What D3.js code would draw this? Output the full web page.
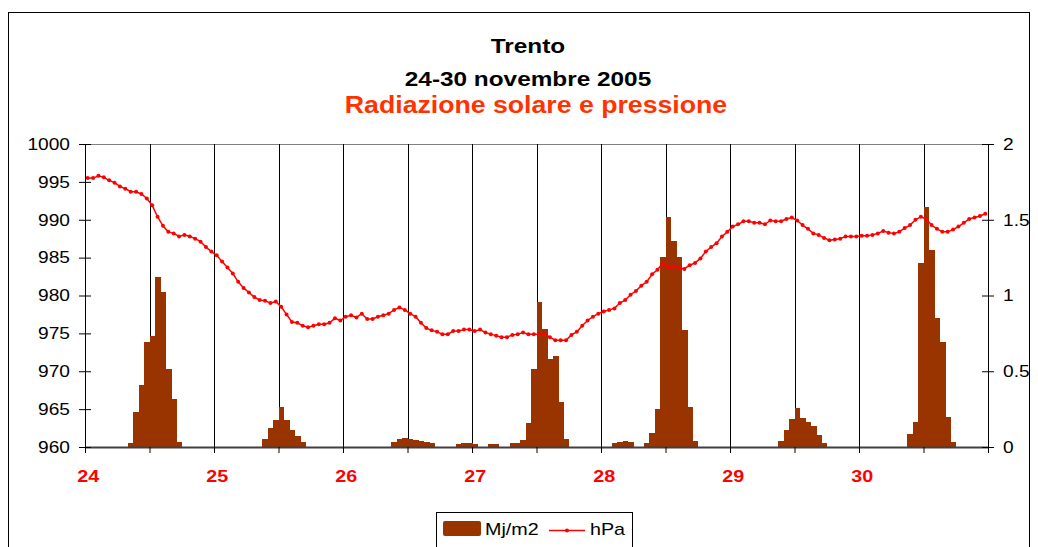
<!DOCTYPE html>
<html>
<head>
<meta charset="utf-8">
<script src="https://cdn.jsdelivr.net/npm/d3@7/dist/d3.min.js"></script>
<style>
    body { margin: 0; background: #fff; }
    svg { display: block; font-family: Arial, "Liberation Sans", sans-serif; }
</style>
</head>
<body>
<svg id="chart" width="1038" height="547"></svg>
<script>
// giorni (etichette asse x), una per ogni 24 ore
const days = ["24", "25", "26", "27", "28", "29", "30"];
const hPaTicks = [960, 965, 970, 975, 980, 985, 990, 995, 1000];
const mjTicks = [0, 0.5, 1, 1.5, 2];

// radiazione solare oraria (Mj/m2), una riga per giorno
const radiazione = [
    0,0,0,0,0,0,0,0,0.025,0.23,0.41,0.695,0.73,1.125,1.02,0.515,0.32,0.035,0,0,0,0,0,0,
    0,0,0,0,0,0,0,0,0,0.055,0.123,0.176,0.266,0.176,0.115,0.075,0.033,0,0,0,0,0,0,0,
    0,0,0,0,0,0,0,0,0,0.03,0.05,0.06,0.05,0.045,0.04,0.035,0.025,0,0,0,0,0.022,0.024,0.024,
    0.022,0,0,0.022,0.022,0,0,0.024,0.024,0.044,0.156,0.515,0.96,0.777,0.58,0.603,0.30,0.053,0,0,0,0,0,0,
    0,0,0.024,0.035,0.042,0.035,0,0,0.024,0.095,0.25,1.252,1.516,1.36,1.252,0.772,0.266,0.04,0,0,0,0,0,0,
    0,0,0,0,0,0,0,0,0,0.042,0.112,0.185,0.255,0.189,0.167,0.141,0.079,0.024,0,0,0,0,0,0,
    0,0,0,0,0,0,0,0,0,0.084,0.167,1.217,1.586,1.30,0.849,0.695,0.196,0.035,0,0,0,0,0,0
];

// pressione oraria (hPa), una riga per giorno
const pressione = [
    995.5,995.5,995.8,995.6,995.2,994.9,994.4,994.1,993.7,993.7,993.4,992.8,991.9,990.4,989.2,988.4,988.2,987.8,988.0,987.8,987.5,987.1,986.4,985.8,
    985.3,984.5,983.7,982.9,981.8,981.0,980.4,979.8,979.4,979.3,979.0,979.2,978.5,977.5,976.5,976.4,976.0,975.8,976.0,976.2,976.2,976.4,977.0,976.7,
    977.2,977.4,977.1,977.6,976.9,976.9,977.2,977.4,977.6,978.1,978.4,978.1,977.6,977.2,976.4,975.7,975.4,975.2,974.9,974.9,975.3,975.3,975.5,975.5,
    975.3,975.5,975.1,974.9,974.7,974.5,974.5,974.8,974.9,975.1,974.9,974.9,974.9,974.9,974.5,974.1,974.1,974.1,974.8,975.2,976.0,976.7,977.2,977.6,
    977.9,978.1,978.3,979.0,979.4,980.1,980.6,981.3,981.8,982.8,983.4,984.3,983.8,983.8,983.7,983.5,984.0,984.3,984.9,985.8,986.4,986.9,987.8,988.4,
    989.1,989.4,989.8,989.8,989.6,989.6,989.4,989.9,989.8,989.8,990.1,990.3,989.9,989.3,988.8,988.2,988.0,987.6,987.3,987.4,987.5,987.8,987.8,987.8,
    987.9,987.9,988.0,988.2,988.5,988.3,988.2,988.4,988.9,989.3,990.0,990.4,990.1,989.3,988.8,988.4,988.4,988.7,989.1,989.6,990.1,990.3,990.5,990.8
];

const titles = ["Trento", "24-30 novembre 2005"];
const subtitle = "Radiazione solare e pressione";
const seriesNames = ["Mj/m2", "hPa"];

const barColor = "#993300",
    lineColor = "#ff0000",
    subtitleColor = "#ff3300";

// Excel text comes out a bit wider than Arial
const SX = 1.16;

const margin = {top: 144, right: 50, bottom: 100, left: 85},
    width = 1038 - margin.left - margin.right,
    height = 547 - margin.top - margin.bottom;

const svg = d3.select("#chart");

// outer frame
svg.append("rect")
    .attr("x", 8.5).attr("y", 12.5)
    .attr("width", 1021).attr("height", 560)
    .attr("fill", "none")
    .attr("stroke", "#000");

// titles
svg.selectAll(".title")
    .data(titles)
    .enter()
    .append("text")
    .attr("class", "title")
    .attr("text-anchor", "middle")
    .attr("transform", function (d, i) { return "translate(528," + (53 + i * 33) + ") scale(" + SX + ",1)"; })
    .style("font-size", "21px")
    .style("font-weight", "bold")
    .attr("fill", "#000")
    .text(function (d) { return d; });

svg.append("text")
    .attr("text-anchor", "middle")
    .attr("transform", "translate(536,113) scale(" + SX + ",1)")
    .style("font-size", "23px")
    .style("font-weight", "bold")
    .attr("fill", subtitleColor)
    .text(subtitle);

const g = svg.append("g")
    .attr("transform", "translate(" + margin.left + "," + margin.top + ")");

const hours = d3.range(pressione.length);

const xBand = d3.scaleBand()
    .domain(hours)
    .range([0, width])
    .paddingInner(0)
    .paddingOuter(0);

const xLin = d3.scaleLinear()
    .domain([0, hours.length])
    .range([0, width]);

const yLeft = d3.scaleLinear()
    .domain([960, 1000])
    .range([height, 0]);

const yRight = d3.scaleLinear()
    .domain([0, 2])
    .range([height, 0]);

const bw = xBand.bandwidth();

// plot area top border
g.append("line")
    .attr("x1", 0).attr("x2", width)
    .attr("y1", 0.5).attr("y2", 0.5)
    .attr("stroke", "#808080");

// vertical gridlines every 12 hours
g.selectAll(".grid")
    .data(d3.range(12, hours.length, 12))
    .enter()
    .append("line")
    .attr("class", "grid")
    .attr("x1", function (d) { return Math.round(xLin(d)) + 0.5; })
    .attr("x2", function (d) { return Math.round(xLin(d)) + 0.5; })
    .attr("y1", 0)
    .attr("y2", height)
    .attr("stroke", "#000")
    .attr("stroke-width", 1);

// bars (no gap between hours)
g.selectAll(".bar")
    .data(radiazione)
    .enter()
    .append("rect")
    .attr("class", "bar")
    .attr("x", function (d, i) { return xBand(i); })
    .attr("width", bw + 0.6)
    .attr("y", function (d) { return yRight(d); })
    .attr("height", function (d) { return height - yRight(d); })
    .attr("fill", barColor)
    .attr("shape-rendering", "crispEdges");

// x axis
const xAxis = g.append("g")
    .attr("class", "x-axis")
    .attr("transform", "translate(0," + height + ")")
    .call(d3.axisBottom(xLin)
        .tickValues(d3.range(0, hours.length + 1, 12))
        .tickSizeInner(6)
        .tickSizeOuter(0)
        .tickFormat(function (d) { return (d % 24 === 0 && d < hours.length) ? days[d / 24] : ""; })
    );
xAxis.select(".domain").attr("stroke", "#404040").attr("stroke-width", 2);
xAxis.selectAll(".tick line").attr("stroke", "#000");
xAxis.selectAll("text")
    .attr("y", 0).attr("dy", 0)
    .attr("transform", "translate(" + (bw / 2) + ",35) scale(" + SX + ",1)")
    .attr("fill", "#ff0000")
    .style("font-size", "17px")
    .style("font-weight", "bold");

// left axis (cross ticks)
function drawLeft(sel) {
    sel.call(d3.axisLeft(yLeft).tickValues(hPaTicks).tickSizeInner(6).tickSizeOuter(0).tickFormat(d3.format("d")));
    sel.append("g").call(d3.axisRight(yLeft).tickValues(hPaTicks).tickSizeInner(6).tickSizeOuter(0).tickFormat(""))
        .select(".domain").remove();
}
const leftAxis = g.append("g").attr("class", "y-axis").call(drawLeft);
leftAxis.selectAll("text")
    .attr("x", 0)
    .attr("transform", "translate(-15,0) scale(" + SX + ",1)")
    .attr("fill", "#000")
    .style("font-size", "16.5px");

// right axis (cross ticks)
function drawRight(sel) {
    sel.call(d3.axisRight(yRight).tickValues(mjTicks).tickSizeInner(6).tickSizeOuter(0).tickFormat(function (d) { return String(d); }));
    sel.append("g").call(d3.axisLeft(yRight).tickValues(mjTicks).tickSizeInner(6).tickSizeOuter(0).tickFormat(""))
        .select(".domain").remove();
}
const rightAxis = g.append("g")
    .attr("class", "y-axis-right")
    .attr("transform", "translate(" + width + ",0)")
    .call(drawRight);
rightAxis.selectAll("text")
    .attr("x", 0)
    .attr("transform", "translate(15,0) scale(" + SX + ",1)")
    .attr("fill", "#000")
    .style("font-size", "16.5px");

// pressure line
const line = d3.line()
    .x(function (d, i) { return xBand(i) + bw / 2; })
    .y(function (d) { return yLeft(d); });

g.append("path")
    .datum(pressione)
    .attr("d", line)
    .attr("fill", "none")
    .attr("stroke", lineColor)
    .attr("stroke-width", 1.5);

g.selectAll(".dot")
    .data(pressione)
    .enter()
    .append("circle")
    .attr("class", "dot")
    .attr("cx", function (d, i) { return xBand(i) + bw / 2; })
    .attr("cy", function (d) { return yLeft(d); })
    .attr("r", 2)
    .attr("fill", lineColor);

// legend
const legend = svg.append("g").attr("class", "legend");
legend.append("rect")
    .attr("x", 436.5).attr("y", 512.5)
    .attr("width", 196).attr("height", 60)
    .attr("fill", "#fff")
    .attr("stroke", "#000");
legend.append("rect")
    .attr("x", 443).attr("y", 521)
    .attr("width", 38).attr("height", 15)
    .attr("rx", 2)
    .attr("fill", barColor);
legend.append("text")
    .attr("transform", "translate(485,535) scale(" + SX + ",1)")
    .style("font-size", "17px")
    .text(seriesNames[0]);
legend.append("line")
    .attr("x1", 549).attr("x2", 585)
    .attr("y1", 530.5).attr("y2", 530.5)
    .attr("stroke", lineColor)
    .attr("stroke-width", 1.5);
legend.append("circle")
    .attr("cx", 567).attr("cy", 530.5).attr("r", 2)
    .attr("fill", lineColor);
legend.append("text")
    .attr("transform", "translate(590,535) scale(" + SX + ",1)")
    .style("font-size", "17px")
    .text(seriesNames[1]);
</script>
</body>
</html>
